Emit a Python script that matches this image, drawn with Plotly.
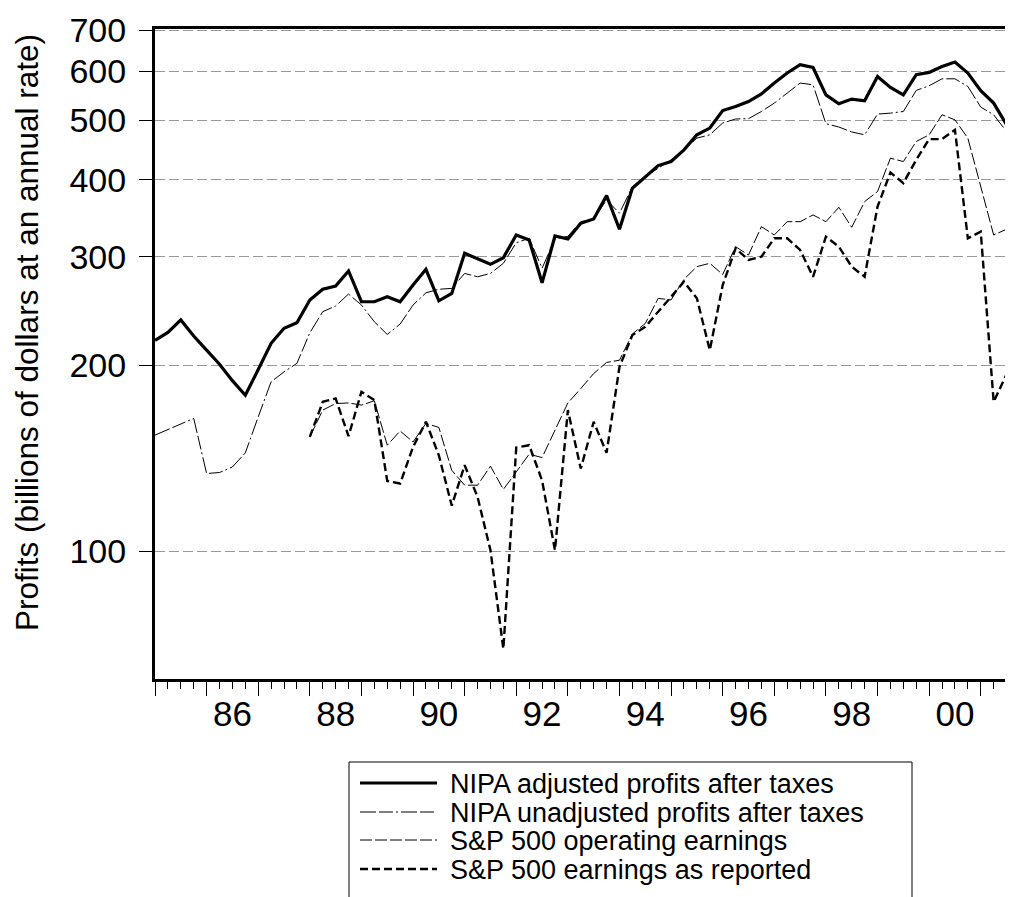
import plotly.graph_objects as go

# Quarterly observations 1985Q1 .. 2001Q4
years = list(range(1985, 2002))
quarters = [y + q / 4 for y in years for q in range(4)]

nipa_adjusted = [219.7, 226.3, 237.1, 223.3, 211.8, 201, 189, 179, 197, 217.3, 229.8, 234.6,
                 255.5, 265.9, 269.1, 284.7, 253.8, 253.8, 258.6, 253.8, 270.1, 286.5, 254.7, 261.8,
                 304.2, 298, 291.9, 299.2, 325.7, 319.7, 272.4, 324.5, 320.9, 340.2, 345.7, 377.3,
                 332.7, 387.9, 405.1, 422.1, 428.5, 447.7, 473.5, 485.6, 518.4, 526.2, 536.2, 551.7,
                 574.5, 596.5, 615.2, 609, 549.8, 531.6, 541.1, 537.7, 588.9, 565.1, 549.8, 592.7,
                 597.8, 611.3, 621.5, 596.5, 558.4, 533.1, 491.6, 655]

nipa_unadjusted = [154.2, 157.5, 160.7, 164.1, 133.6, 134.1, 136.9, 144.3, 165.1, 188.2, 195.3, 201.6,
                   226, 244.5, 249.8, 261.2, 250.7, 235.5, 224.6, 233.5, 250.7, 262.4, 265.9, 266.8,
                   282.1, 278.6, 282.1, 293, 316.4, 321.7, 287.6, 321, 324, 342.3, 345.7, 371.3,
                   353.3, 390, 405, 417.9, 431.2, 447, 467.7, 473.5, 494.9, 502.3, 503, 516.6,
                   533.1, 553.4, 574.5, 570.8, 493.6, 487.5, 478.6, 473.5, 511.6, 513.5, 516.6, 558.9,
                   568.7, 583.7, 583.7, 567.2, 525.2, 510.3, 479.3, 416]

sp_operating = [None] * 12 + [153.2, 169.3, 173.5, 173.9, 172.5, 175.3, 148.5, 156.6, 150.3, 161.1, 158.7, 135.2,
                              127.9, 127.9, 137.3, 125.9, 134.4, 143.6, 141.8, 157, 173.9, 183.5, 194.1, 202.3,
                              204, 225, 234, 257, 255.5, 276, 289.4, 293, 281, 311.8, 302.2, 336,
                              325.7, 342.3, 342.3, 351, 342.3, 361.2, 335.2, 368.9, 383.1, 433.9, 428.5, 461.8,
                              473.5, 510.3, 500.8, 467.7, 390.3, 325.7, 332.7, 366]

sp_reported = [None] * 12 + [153.2, 174.6, 176.9, 153.6, 181.3, 175.8, 129.9, 128.7, 147.5, 162.1, 143, 118.5,
                             137.8, 122.4, 100.3, 69.4, 147.2, 148.5, 130.2, 100.3, 169.3, 136.1, 162.1, 144.3,
                             199, 224.1, 231.1, 244.5, 258.6, 273.5, 257, 211.8, 270.1, 309.9, 296.6, 300.3,
                             321.7, 321.7, 308, 278.6, 323.6, 311.8, 289.3, 278.6, 362.1, 411.2, 395.3, 431.2,
                             466, 466, 482.4, 321.7, 329.8, 174.6, 193.6, 212]

series_names = ["NIPA adjusted profits after taxes", "NIPA unadjusted profits after taxes",
                "S&P 500 operating earnings", "S&P 500 earnings as reported"]

y_ticks = [100, 200, 300, 400, 500, 600, 700]
label_years = [1986, 1988, 1990, 1992, 1994, 1996, 1998, 2000]
label_text = ["86", "88", "90", "92", "94", "96", "98", "00"]
y_title = "Profits (billions of dollars at an annual rate)"

x_range = [1985.0, 2001.625]

# figure geometry (the page adds an 8px body margin)
W, H = 1005, 889
L, R, T, B = 147, 0, 21, 218
PW, PH = W - L - R, H - T - B


def px(xpix):
    return (xpix - L) / PW


def py(ypix):
    return (H - B - ypix) / PH


styles = [
    dict(color="black", width=3.2),
    dict(color="black", width=1, dash="16px,3px,14px,3px,2px,3px"),
    dict(color="black", width=1, dash="12px,3px"),
    dict(color="black", width=2.4, dash="8px,4px"),
]

fig = go.Figure()
for name, vals, st in zip(series_names, [nipa_adjusted, nipa_unadjusted, sp_operating, sp_reported], styles):
    fig.add_trace(go.Scatter(x=quarters, y=vals, mode="lines", name=name, line=st, showlegend=False))
# invisible trace carrying the year-label axis
fig.add_trace(go.Scatter(x=x_range, y=[None, None], xaxis="x2", showlegend=False, hoverinfo="skip"))

# legend box drawn by hand (fixed row spacing)
shapes = [dict(type="rect", xref="paper", yref="paper",
               x0=px(341), x1=px(904), y0=py(754), y1=py(900),
               line=dict(color="black", width=1), fillcolor="white", layer="above")]
annotations = []
row_y = [775, 804, 832, 861]
for name, st, ry in zip(series_names, styles, row_y):
    shapes.append(dict(type="line", xref="paper", yref="paper",
                       x0=px(352), x1=px(429), y0=py(ry), y1=py(ry), line=st, layer="above"))
    annotations.append(dict(text=name, xref="paper", yref="paper", x=px(440), y=py(ry + 1),
                            xanchor="left", yanchor="middle", showarrow=False,
                            font=dict(size=27, color="black")))

# y-axis title
annotations.append(dict(text=y_title, xref="paper", yref="paper", x=px(19), y=py(325),
                        xanchor="center", yanchor="middle", textangle=-90, showarrow=False,
                        font=dict(size=31.5, color="black")))

fig.update_layout(
    width=W, height=H,
    margin=dict(l=L, r=R, t=T, b=B, autoexpand=False),
    plot_bgcolor="white", paper_bgcolor="white",
    font=dict(family="Liberation Sans, Arial, sans-serif", color="black"),
    showlegend=False,
    shapes=shapes, annotations=annotations,
    xaxis=dict(
        range=x_range, showgrid=False, zeroline=False,
        showline=True, linecolor="black", linewidth=3, mirror=True,
        tickmode="array", tickvals=years, showticklabels=False,
        ticks="outside", ticklen=14, tickcolor="black", tickwidth=1,
        minor=dict(tickmode="array", tickvals=quarters, ticks="outside", ticklen=7,
                   tickcolor="black", tickwidth=1, showgrid=False),
    ),
    xaxis2=dict(
        range=x_range, overlaying="x", side="bottom", anchor="y",
        showgrid=False, zeroline=False, showline=False,
        tickmode="array", tickvals=[y + 0.5 for y in label_years], ticktext=label_text,
        ticks="outside", ticklen=4, tickcolor="rgba(0,0,0,0)",
        tickfont=dict(size=35),
    ),
    yaxis=dict(
        type="log", range=[1.7924, 2.8470],
        showline=True, linecolor="black", linewidth=3, mirror=False,
        tickmode="array", tickvals=y_ticks, ticktext=[str(v) for v in y_ticks],
        ticks="outside", ticklen=13, tickcolor="black", tickwidth=1,
        tickfont=dict(size=34), ticklabelstandoff=6,
        showgrid=True, gridcolor="#9a9a9a", gridwidth=1, griddash="10px,4px",
        zeroline=False,
    ),
)

fig.write_html("out.html")
